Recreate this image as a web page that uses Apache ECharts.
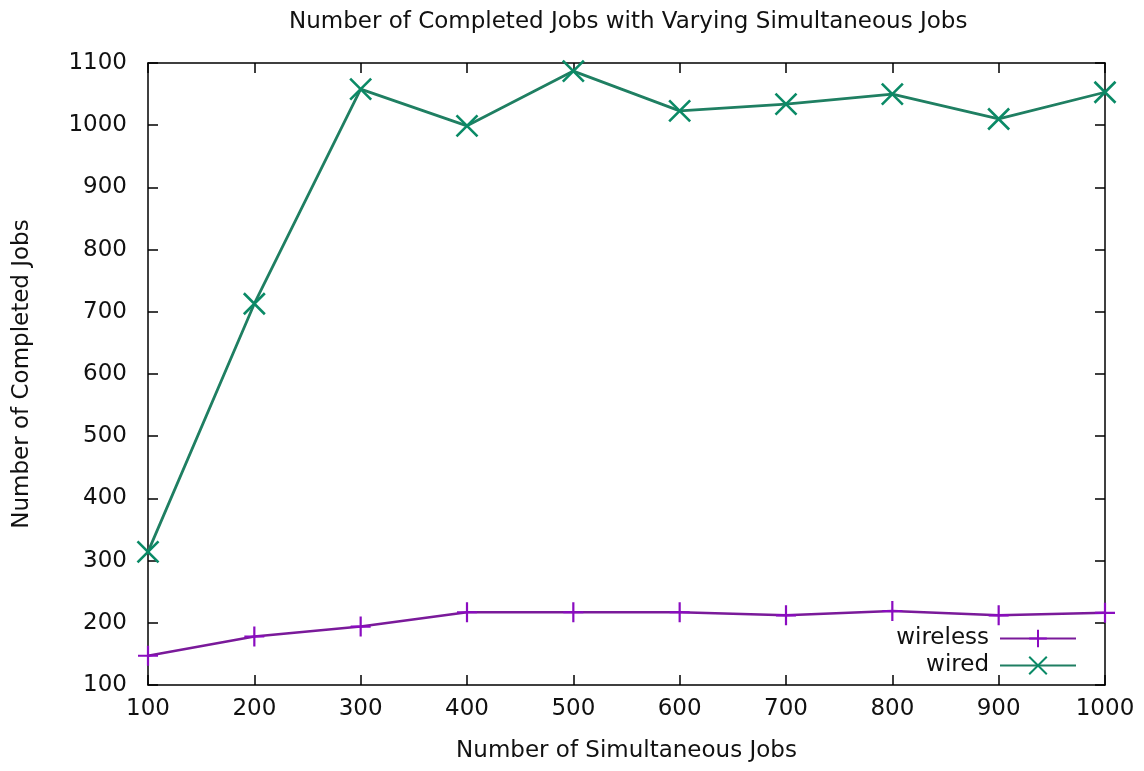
<!DOCTYPE html>
<html>
<head>
<meta charset="utf-8">
<script src="https://cdn.jsdelivr.net/npm/echarts@6/dist/echarts.min.js"></script>
<style>html,body{margin:0;padding:0;background:#fff;}#chart{width:1144px;height:771px;}</style>
</head>
<body>
<div id="chart"></div>
<script>
const simultaneousJobs = [100, 200, 300, 400, 500, 600, 700, 800, 900, 1000];
const wireless = [147, 178, 194, 217, 217, 217, 212, 219, 212, 216];
const wired = [314, 713, 1058, 999, 1087, 1023, 1034, 1050, 1010, 1053];
const titleText = 'Number of Completed Jobs with Varying Simultaneous Jobs';
const xName = 'Number of Simultaneous Jobs';
const yName = 'Number of Completed Jobs';

const FONT = 'DejaVu Sans';
const FS = 23;
const chart = echarts.init(document.getElementById('chart'), null, {renderer: 'canvas'});
const axisCommon = {
  axisLine: {show: true, lineStyle: {color: '#000', width: 1.5}},
  axisTick: {show: true, inside: true, length: 10, lineStyle: {color: '#000', width: 1.5}},
  splitLine: {show: false}
};
const plain = v => String(v);
const plusPath = 'path://M5,0 L5,10 M0,5 L10,5';
const crossPath = 'path://M0,0 L10,10 M10,0 L0,10';
chart.setOption({
  animation: false,
  backgroundColor: '#fff',
  title: {
    text: titleText, left: 284, top: 6,
    textStyle: {fontFamily: FONT, fontSize: FS, fontWeight: 'normal', color: '#111'}
  },
  grid: {left: 148, right: 39, top: 63, bottom: 86},
  legend: {
    orient: 'vertical', right: 62, top: 622, align: 'right',
    itemWidth: 76, itemHeight: 22, itemGap: 4,
    textStyle: {fontFamily: FONT, fontSize: FS, color: '#111', padding: [0, 6, 0, 0]},
    data: ['wireless', 'wired']
  },
  xAxis: [
    Object.assign({
      type: 'value', min: 100, max: 1000, interval: 100,
      name: xName, nameLocation: 'middle', nameGap: 55,
      nameTextStyle: {fontFamily: FONT, fontSize: FS, color: '#111'},
      axisLabel: {fontFamily: FONT, fontSize: FS, color: '#111', margin: 13, formatter: plain}
    }, axisCommon),
    Object.assign({
      type: 'value', min: 100, max: 1000, interval: 100, position: 'top',
      axisLabel: {show: false}
    }, axisCommon)
  ],
  yAxis: [
    Object.assign({
      type: 'value', min: 100, max: 1100, interval: 100,
      name: yName, nameLocation: 'middle', nameGap: 114,
      nameTextStyle: {fontFamily: FONT, fontSize: FS, color: '#111'},
      axisLabel: {fontFamily: FONT, fontSize: FS, color: '#111', margin: 21, formatter: plain}
    }, axisCommon),
    Object.assign({
      type: 'value', min: 100, max: 1100, interval: 100, position: 'right',
      axisLabel: {show: false}
    }, axisCommon)
  ],
  series: [
    {
      name: 'wireless', type: 'line',
      data: simultaneousJobs.map((x, i) => [x, wireless[i]]),
      color: '#8a0cc0',
      lineStyle: {color: '#7a1a9a', width: 2.5},
      symbol: plusPath, symbolSize: [20, 20], showAllSymbol: true,
      itemStyle: {color: 'rgba(0,0,0,0)', borderColor: '#8a0cc0', borderWidth: 2.2},
      emphasis: {disabled: true}
    },
    {
      name: 'wired', type: 'line',
      data: simultaneousJobs.map((x, i) => [x, wired[i]]),
      color: '#0a8a66',
      lineStyle: {color: '#1f7f62', width: 2.8},
      symbol: crossPath, symbolSize: [21, 21], showAllSymbol: true,
      itemStyle: {color: 'rgba(0,0,0,0)', borderColor: '#0a8a66', borderWidth: 2.6},
      emphasis: {disabled: true}
    }
  ]
});
</script>
</body>
</html>
